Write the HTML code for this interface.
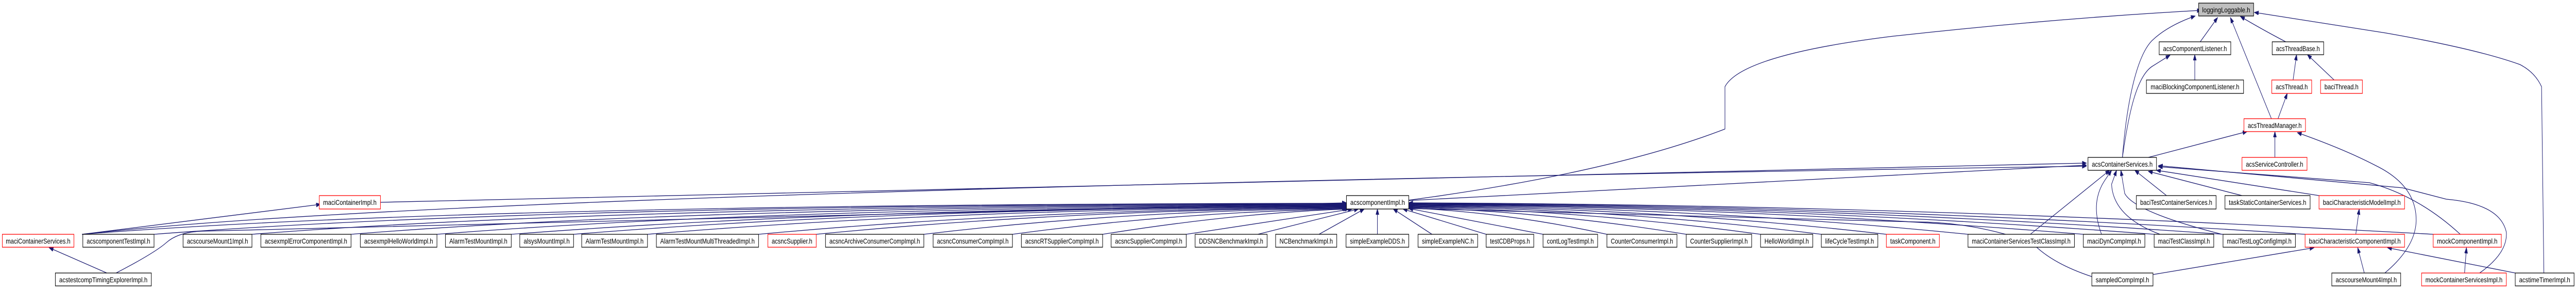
<!DOCTYPE html>
<html><head><meta charset="utf-8"><style>
html,body{margin:0;padding:0;background:#fff;width:100%;height:100%;overflow:hidden;}
svg{display:block;position:fixed;left:0;top:0;width:100vw;height:100vh;}
text{font-family:"Liberation Sans",sans-serif;font-size:14px;fill:#000;}
.e{fill:none;stroke:#191970;stroke-width:1.3;marker-end:url(#a);}
.b{fill:#fff;stroke:#000;stroke-width:1.3;}
.r{fill:#fff;stroke:#ff0000;stroke-width:1.3;}
.g{fill:#bfbfbf;stroke:#000;stroke-width:1.3;}
</style></head><body>
<svg viewBox="0 0 6656 560" preserveAspectRatio="none" xmlns="http://www.w3.org/2000/svg">
<defs><marker id="a" markerUnits="userSpaceOnUse" markerWidth="12" markerHeight="9" refX="11" refY="4" orient="auto"><path d="M0,0 L11,4 L0,8 z" fill="#191970" stroke="#191970"/></marker></defs>
<g>
<path class="e" d="M212,454 Q1200,395 3479,394"/>
<path class="e" d="M398,454 Q1400,396 3479,395"/>
<path class="e" d="M651,454 Q1600,398 3479,396"/>
<path class="e" d="M907,454 Q1800,400 3479,397"/>
<path class="e" d="M1129,454 Q2000,402 3479,398"/>
<path class="e" d="M1321,454 Q2200,403 3479,399"/>
<path class="e" d="M1482,454 Q2300,404 3479,400"/>
<path class="e" d="M1673,454 Q2450,405 3479,401"/>
<path class="e" d="M1960,454 Q2650,406 3479,402"/>
<path class="e" d="M2109,454 Q2750,407 3479,403"/>
<path class="e" d="M2387,454 Q2900,408 3479,404"/>
<path class="e" d="M2616,454 Q3050,410 3482,405"/>
<path class="e" d="M2849,454 Q3200,412 3486,405"/>
<path class="e" d="M3065,454 L3494,405"/>
<path class="e" d="M3250,454 L3510,405"/>
<path class="e" d="M3408,454 L3525,405"/>
<path class="e" d="M3559,454 L3559,405"/>
<path class="e" d="M3700,454 L3600,405"/>
<path class="e" d="M3840,454 L3625,405"/>
<path class="e" d="M3987,454 L3640,404"/>
<path class="e" d="M4152,454 Q3900,412 3640,403"/>
<path class="e" d="M4357,454 Q4000,410 3640,402"/>
<path class="e" d="M4549,454 Q4100,408 3640,401"/>
<path class="e" d="M4706,454 Q4200,406 3640,400"/>
<path class="e" d="M4874,454 Q4300,404 3640,399"/>
<path class="e" d="M5085,454 Q4400,402 3640,398"/>
<path class="e" d="M5383,454 Q4500,400 3640,397"/>
<path class="e" d="M5566,454 Q4600,399 3640,396"/>
<path class="e" d="M5744,454 Q4700,398 3640,395"/>
<path class="e" d="M5956,454 Q4800,397 3640,394"/>
<path class="e" d="M6287,454 Q4900,396 3640,393"/>
<path class="e" d="M5405,536 Q5300,510 5250,470 Q5100,430 4950,430 L3640,404"/>
<path class="e" d="M212,454 L828,396"/>
<path class="e" d="M276,529 L127,480"/>
<path class="e" d="M300,529 Q400,490 430,470 Q460,450 520,448 L3479,393"/>
<path class="e" d="M983,392 L5391,316"/>
<path class="e" d="M212,454 Q1200,370 5391,322"/>
<path class="e" d="M3629,389 L5391,320"/>
<path class="e" d="M3629,389 Q4160,336 4457,250 L4457,168 Q4500,107 4882,71 Q5300,36 5688,20"/>
<path class="e" d="M5484,305 C5495,200 5520,110 5560,79 Q5600,50 5672,31"/>
<path class="e" d="M5685,81 L5730,34"/>
<path class="e" d="M5869,230 Q5810,120 5763,34"/>
<path class="e" d="M5906,81 Q5840,55 5789,32"/>
<path class="e" d="M6573,529 L6567,168 Q6550,140 6511,125 Q6400,95 6165,64 L5825,24"/>
<path class="e" d="M5671,155 L5671,106"/>
<path class="e" d="M5484,305 C5500,220 5520,150 5560,129 L5607,107"/>
<path class="e" d="M5925,155 L5934,106"/>
<path class="e" d="M6031,155 L5962,106"/>
<path class="e" d="M5886,230 L5910,181"/>
<path class="e" d="M5551,305 L5806,255"/>
<path class="e" d="M5878,305 L5878,255"/>
<path class="e" d="M6162,529 Q6240,480 6243,429 Q6245,360 6139,321 Q6060,290 5936,257"/>
<path class="e" d="M5598,379 L5516,330"/>
<path class="e" d="M5793,379 L5551,332"/>
<path class="e" d="M5992,379 L5572,330"/>
<path class="e" d="M6357,454 Q6250,380 6122,354 L5577,323"/>
<path class="e" d="M6407,529 Q6480,490 6476,450 Q6460,395 6321,386 Q6250,372 6208,364 L5577,321"/>
<path class="e" d="M6087,454 L6096,405"/>
<path class="e" d="M5563,532 L5979,480"/>
<path class="e" d="M6109,529 L6092,480"/>
<path class="e" d="M6499,529 L6169,480"/>
<path class="e" d="M6368,529 L6373,480"/>
<path class="e" d="M5430,454 Q5400,393 5438,350 L5456,330"/>
<path class="e" d="M5581,454 Q5460,420 5456,357 L5469,330"/>
<path class="e" d="M5741,454 Q5516,411 5490,375 L5480,330"/>
<path class="e" d="M5246,454 L5451,330"/>
</g>
<g>
<rect class="g" x="5681" y="6" width="142" height="25"/><text x="5752" y="24" text-anchor="middle" textLength="124" lengthAdjust="spacingAndGlyphs">loggingLoggable.h</text>
<rect class="b" x="5579" y="81" width="185" height="25"/><text x="5671.5" y="99" text-anchor="middle" textLength="165" lengthAdjust="spacingAndGlyphs">acsComponentListener.h</text>
<rect class="b" x="5871" y="81" width="133" height="25"/><text x="5937.5" y="99" text-anchor="middle" textLength="113" lengthAdjust="spacingAndGlyphs">acsThreadBase.h</text>
<rect class="b" x="5546" y="155" width="251" height="26"/><text x="5671.5" y="173" text-anchor="middle" textLength="229" lengthAdjust="spacingAndGlyphs">maciBlockingComponentListener.h</text>
<rect class="r" x="5870" y="155" width="103" height="26"/><text x="5921.5" y="173" text-anchor="middle" textLength="83" lengthAdjust="spacingAndGlyphs">acsThread.h</text>
<rect class="r" x="5996" y="155" width="108" height="26"/><text x="6050" y="173" text-anchor="middle" textLength="88" lengthAdjust="spacingAndGlyphs">baciThread.h</text>
<rect class="r" x="5798" y="230" width="159" height="25"/><text x="5877.5" y="248" text-anchor="middle" textLength="139" lengthAdjust="spacingAndGlyphs">acsThreadManager.h</text>
<rect class="b" x="5395" y="305" width="177" height="25"/><text x="5483.5" y="323" text-anchor="middle" textLength="157" lengthAdjust="spacingAndGlyphs">acsContainerServices.h</text>
<rect class="r" x="5793" y="305" width="168" height="25"/><text x="5877" y="323" text-anchor="middle" textLength="148" lengthAdjust="spacingAndGlyphs">acsServiceController.h</text>
<rect class="r" x="825" y="379" width="158" height="26"/><text x="904" y="397" text-anchor="middle" textLength="138" lengthAdjust="spacingAndGlyphs">maciContainerImpl.h</text>
<rect class="b" x="3479" y="379" width="161" height="26"/><text x="3559.5" y="397" text-anchor="middle" textLength="141" lengthAdjust="spacingAndGlyphs">acscomponentImpl.h</text>
<rect class="b" x="5520" y="379" width="206" height="26"/><text x="5623" y="397" text-anchor="middle" textLength="186" lengthAdjust="spacingAndGlyphs">baciTestContainerServices.h</text>
<rect class="b" x="5749" y="379" width="220" height="26"/><text x="5859" y="397" text-anchor="middle" textLength="200" lengthAdjust="spacingAndGlyphs">taskStaticContainerServices.h</text>
<rect class="r" x="5992" y="379" width="221" height="26"/><text x="6102.5" y="397" text-anchor="middle" textLength="201" lengthAdjust="spacingAndGlyphs">baciCharacteristicModelImpl.h</text>
</g>
<g>
<rect class="r" x="6" y="454" width="185" height="25"/><text x="98.5" y="472" text-anchor="middle" textLength="167" lengthAdjust="spacingAndGlyphs">maciContainerServices.h</text>
<rect class="b" x="214" y="454" width="184" height="25"/><text x="306" y="472" text-anchor="middle" textLength="164" lengthAdjust="spacingAndGlyphs">acscomponentTestImpl.h</text>
<rect class="b" x="473" y="454" width="178" height="25"/><text x="562" y="472" text-anchor="middle" textLength="158" lengthAdjust="spacingAndGlyphs">acscourseMount1Impl.h</text>
<rect class="b" x="674" y="454" width="233" height="25"/><text x="790.5" y="472" text-anchor="middle" textLength="213" lengthAdjust="spacingAndGlyphs">acsexmplErrorComponentImpl.h</text>
<rect class="b" x="931" y="454" width="198" height="25"/><text x="1030" y="472" text-anchor="middle" textLength="178" lengthAdjust="spacingAndGlyphs">acsexmplHelloWorldImpl.h</text>
<rect class="b" x="1151" y="454" width="170" height="25"/><text x="1236" y="472" text-anchor="middle" textLength="150" lengthAdjust="spacingAndGlyphs">AlarmTestMountImpl.h</text>
<rect class="b" x="1343" y="454" width="139" height="25"/><text x="1412.5" y="472" text-anchor="middle" textLength="119" lengthAdjust="spacingAndGlyphs">alsysMountImpl.h</text>
<rect class="b" x="1503" y="454" width="170" height="25"/><text x="1588" y="472" text-anchor="middle" textLength="150" lengthAdjust="spacingAndGlyphs">AlarmTestMountImpl.h</text>
<rect class="b" x="1696" y="454" width="264" height="25"/><text x="1828" y="472" text-anchor="middle" textLength="244" lengthAdjust="spacingAndGlyphs">AlarmTestMountMultiThreadedImpl.h</text>
<rect class="r" x="1984" y="454" width="125" height="25"/><text x="2046.5" y="472" text-anchor="middle" textLength="105" lengthAdjust="spacingAndGlyphs">acsncSupplier.h</text>
<rect class="b" x="2133" y="454" width="254" height="25"/><text x="2260" y="472" text-anchor="middle" textLength="234" lengthAdjust="spacingAndGlyphs">acsncArchiveConsumerCompImpl.h</text>
<rect class="b" x="2411" y="454" width="205" height="25"/><text x="2513.5" y="472" text-anchor="middle" textLength="185" lengthAdjust="spacingAndGlyphs">acsncConsumerCompImpl.h</text>
<rect class="b" x="2639" y="454" width="210" height="25"/><text x="2744" y="472" text-anchor="middle" textLength="190" lengthAdjust="spacingAndGlyphs">acsncRTSupplierCompImpl.h</text>
<rect class="b" x="2871" y="454" width="194" height="25"/><text x="2968" y="472" text-anchor="middle" textLength="174" lengthAdjust="spacingAndGlyphs">acsncSupplierCompImpl.h</text>
<rect class="b" x="3088" y="454" width="186" height="25"/><text x="3181" y="472" text-anchor="middle" textLength="166" lengthAdjust="spacingAndGlyphs">DDSNCBenchmarkImpl.h</text>
<rect class="b" x="3296" y="454" width="158" height="25"/><text x="3375" y="472" text-anchor="middle" textLength="138" lengthAdjust="spacingAndGlyphs">NCBenchmarkImpl.h</text>
<rect class="b" x="3478" y="454" width="162" height="25"/><text x="3559" y="472" text-anchor="middle" textLength="142" lengthAdjust="spacingAndGlyphs">simpleExampleDDS.h</text>
<rect class="b" x="3664" y="454" width="154" height="25"/><text x="3741" y="472" text-anchor="middle" textLength="134" lengthAdjust="spacingAndGlyphs">simpleExampleNC.h</text>
<rect class="b" x="3840" y="454" width="123" height="25"/><text x="3901.5" y="472" text-anchor="middle" textLength="103" lengthAdjust="spacingAndGlyphs">testCDBProps.h</text>
<rect class="b" x="3987" y="454" width="141" height="25"/><text x="4057.5" y="472" text-anchor="middle" textLength="121" lengthAdjust="spacingAndGlyphs">contLogTestImpl.h</text>
<rect class="b" x="4152" y="454" width="181" height="25"/><text x="4242.5" y="472" text-anchor="middle" textLength="161" lengthAdjust="spacingAndGlyphs">CounterConsumerImpl.h</text>
<rect class="b" x="4357" y="454" width="169" height="25"/><text x="4441.5" y="472" text-anchor="middle" textLength="149" lengthAdjust="spacingAndGlyphs">CounterSupplierImpl.h</text>
<rect class="b" x="4549" y="454" width="135" height="25"/><text x="4616.5" y="472" text-anchor="middle" textLength="115" lengthAdjust="spacingAndGlyphs">HelloWorldImpl.h</text>
<rect class="b" x="4706" y="454" width="146" height="25"/><text x="4779" y="472" text-anchor="middle" textLength="126" lengthAdjust="spacingAndGlyphs">lifeCycleTestImpl.h</text>
<rect class="r" x="4874" y="454" width="137" height="25"/><text x="4942.5" y="472" text-anchor="middle" textLength="117" lengthAdjust="spacingAndGlyphs">taskComponent.h</text>
<rect class="b" x="5085" y="454" width="275" height="25"/><text x="5222.5" y="472" text-anchor="middle" textLength="255" lengthAdjust="spacingAndGlyphs">maciContainerServicesTestClassImpl.h</text>
<rect class="b" x="5383" y="454" width="159" height="25"/><text x="5462.5" y="472" text-anchor="middle" textLength="139" lengthAdjust="spacingAndGlyphs">maciDynCompImpl.h</text>
<rect class="b" x="5566" y="454" width="154" height="25"/><text x="5643" y="472" text-anchor="middle" textLength="134" lengthAdjust="spacingAndGlyphs">maciTestClassImpl.h</text>
<rect class="b" x="5744" y="454" width="187" height="25"/><text x="5837.5" y="472" text-anchor="middle" textLength="167" lengthAdjust="spacingAndGlyphs">maciTestLogConfigImpl.h</text>
<rect class="r" x="5956" y="454" width="257" height="25"/><text x="6084.5" y="472" text-anchor="middle" textLength="237" lengthAdjust="spacingAndGlyphs">baciCharacteristicComponentImpl.h</text>
<rect class="r" x="6287" y="454" width="176" height="25"/><text x="6375" y="472" text-anchor="middle" textLength="156" lengthAdjust="spacingAndGlyphs">mockComponentImpl.h</text>
<rect class="b" x="143" y="529" width="248" height="25"/><text x="267" y="547" text-anchor="middle" textLength="228" lengthAdjust="spacingAndGlyphs">acstestcompTimingExplorerImpl.h</text>
<rect class="b" x="5405" y="529" width="158" height="25"/><text x="5484" y="547" text-anchor="middle" textLength="138" lengthAdjust="spacingAndGlyphs">sampledCompImpl.h</text>
<rect class="b" x="6025" y="529" width="178" height="25"/><text x="6114" y="547" text-anchor="middle" textLength="158" lengthAdjust="spacingAndGlyphs">acscourseMount4Impl.h</text>
<rect class="r" x="6257" y="529" width="219" height="25"/><text x="6366.5" y="547" text-anchor="middle" textLength="199" lengthAdjust="spacingAndGlyphs">mockContainerServicesImpl.h</text>
<rect class="b" x="6499" y="529" width="152" height="25"/><text x="6575" y="547" text-anchor="middle" textLength="132" lengthAdjust="spacingAndGlyphs">acstimeTimerImpl.h</text>
</g>
</svg>
</body></html>
